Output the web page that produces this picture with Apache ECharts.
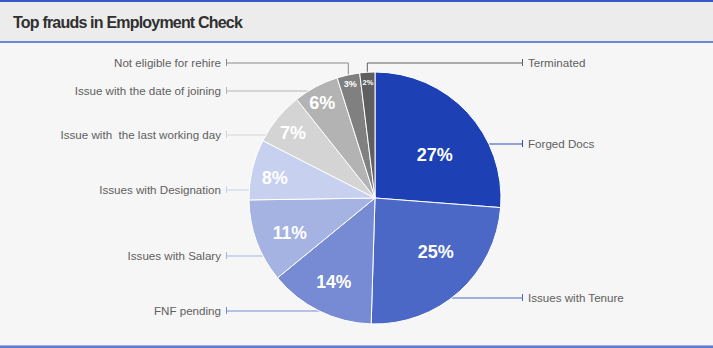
<!DOCTYPE html>
<html>
<head>
<meta charset="utf-8">
<script src="https://cdn.jsdelivr.net/npm/echarts@6/dist/echarts.min.js"></script>
<style>
html,body{margin:0;padding:0;background:#f6f6f6;}
#chart{width:713px;height:348px;}
</style>
</head>
<body>
<div id="chart"></div>
<script>
// ---- data ----
const titleText = 'Top frauds in Employment Check';
const categories = ['Forged Docs', 'Issues with Tenure', 'FNF pending', 'Issues with Salary', 'Issues with Designation', 'Issue with  the last working day', 'Issue with the date of joining', 'Not eligible for rehire', 'Terminated'];
const values = [27, 25, 14, 11, 8, 7, 6, 3, 2];

// ---- styles / layout ----
const colors = ['#1d40b5', '#4b68c6', '#768bd3', '#a5b3e2', '#c7d0ee', '#d4d4d4', '#b3b3b3', '#808080', '#5f5f5f'];
const lineColors = ['#2c4dbd', '#4b68c6', '#768bd3', '#a5b3e2', '#c7d0ee', '#d4d4d4', '#b3b3b3', '#8a8a8a', '#5f5f5f'];
const cx = 375, cy = 198, R = 126;
const outerSide = ['r', 'r', 'l', 'l', 'l', 'l', 'l', 'l', 'r'];
const outerY = [144, 298, 311, 256, 190, 135, 91, 63, 63];
const rightX = cx + 147, leftX = cx - 148;
const innerFrac = [0.585, 0.645, 0.74, 0.73, 0.81, 0.83, 0.865, 0.925, 0.92];
const innerDA = [7, -6.5, 0, -2, -2, -1, -1, 0, 0];
const innerSize = [18, 18, 17.5, 17.5, 18, 18, 18, 9, 7.5];
const labelFont = "'Liberation Sans', Arial, sans-serif";

const total = values.reduce((a, b) => a + b, 0);
const angles = [];
let acc = 0;
values.forEach(v => { const s = acc / total * 360; acc += v; angles.push([s, acc / total * 360]); });
function pt(aDeg, r) { const a = aDeg * Math.PI / 180; return [cx + r * Math.sin(a), cy - r * Math.cos(a)]; }

const outerData = categories.map((name, i) => {
  const right = outerSide[i] === 'r';
  return {
    name: name, value: values[i],
    itemStyle: { color: colors[i] },
    labelLine: { lineStyle: { color: lineColors[i], width: 1 } },
    label: {
      formatter: right ? '{t|}{n|{b}}' : '{n|{b}}{t|}',
      rich: {
        t: { width: 1, height: 7, backgroundColor: lineColors[i], verticalAlign: 'middle' },
        n: { fontSize: 11.6, color: '#606060', fontFamily: labelFont, verticalAlign: 'middle', padding: right ? [0, 0, 0, 5] : [0, 5, 0, 0] }
      }
    }
  };
});

const innerData = categories.map((name, i) => ({
  name: name, value: values[i],
  label: { fontSize: innerSize[i] }
}));

const chart = echarts.init(document.getElementById('chart'), null, { renderer: 'svg' });
function tightenTitle() {
  document.querySelectorAll('#chart svg text').forEach(t => {
    if (t.textContent === titleText) t.setAttribute('letter-spacing', '-0.8');
  });
}
chart.on('finished', tightenTitle);
chart.on('rendered', tightenTitle);
chart.setOption({
  backgroundColor: '#f6f6f6',
  animation: false,
  title: {
    text: titleText, left: 8, top: 9, z: 10,
    textStyle: { fontSize: 16, fontWeight: 'bold', color: '#303030', fontFamily: labelFont }
  },
  graphic: [
    { type: 'rect', z: 1, shape: { x: 0, y: 0, width: 713, height: 42 }, style: { fill: '#ececec' } },
    { type: 'rect', z: 2, shape: { x: 0, y: 0, width: 713, height: 2 }, style: { fill: '#3a58c6' } },
    { type: 'rect', z: 2, shape: { x: 0, y: 41, width: 713, height: 2 }, style: { fill: '#6e88d8' } },
    { type: 'rect', z: 2, shape: { x: 0, y: 345, width: 713, height: 1 }, style: { fill: '#9fb0e6' } },
    { type: 'rect', z: 2, shape: { x: 0, y: 346, width: 713, height: 2 }, style: { fill: '#5f7bd2' } }
  ],
  series: [
    {
      type: 'pie', center: [cx, cy], radius: R, startAngle: 90, clockwise: true,
      silent: true,
      itemStyle: { borderColor: '#ffffff', borderWidth: 1 },
      label: { show: true, position: 'outside' },
      labelLine: { show: true },
      labelLayout: function (p) {
        const i = p.dataIndex;
        const right = outerSide[i] === 'r';
        const y = outerY[i];
        const endX = right ? rightX : leftX;
        const [a0, a1] = angles[i];
        let pts = null;
        const dy = y - cy;
        if (Math.abs(dy) < R) {
          const dx = Math.sqrt(R * R - dy * dy);
          const ix = right ? cx + dx : cx - dx;
          let ang = Math.atan2(ix - cx, cy - y) * 180 / Math.PI;
          if (ang < 0) ang += 360;
          if (ang >= a0 && ang <= a1) pts = [[ix, y], [(ix + endX) / 2, y], [endX, y]];
        }
        if (!pts) {
          const m = pt((a0 + a1) / 2, R);
          pts = [m, [m[0], y], [endX, y]];
        }
        return { x: endX, y: y - 0.5, align: right ? 'left' : 'right', verticalAlign: 'middle', labelLinePoints: pts };
      },
      data: outerData
    },
    {
      type: 'pie', center: [cx, cy], radius: R, startAngle: 90, clockwise: true,
      silent: true, z: 5,
      itemStyle: { color: 'rgba(0,0,0,0)', borderWidth: 0 },
      label: {
        show: true, position: 'inside', formatter: '{c}%', color: '#ffffff', fontWeight: 'bold',
        fontFamily: labelFont
      },
      labelLine: { show: false },
      labelLayout: function (p) {
        const i = p.dataIndex;
        const [a0, a1] = angles[i];
        const q = pt((a0 + a1) / 2 + innerDA[i], R * innerFrac[i]);
        return { x: q[0], y: q[1], align: 'center', verticalAlign: 'middle' };
      },
      data: innerData
    }
  ]
});
tightenTitle();
setTimeout(tightenTitle, 0);
</script>
</body>
</html>
